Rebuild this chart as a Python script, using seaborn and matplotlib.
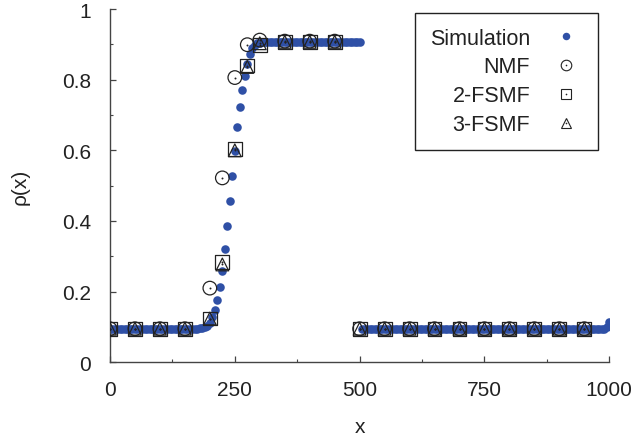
import matplotlib
matplotlib.use("Agg")
import matplotlib.pyplot as plt
from matplotlib.lines import Line2D
from matplotlib.ticker import MultipleLocator
import seaborn as sns

# ---------------- data ----------------
sim_x = list(range(0, 1001, 5))
sim_y_left = [
    0.095, 0.095, 0.095, 0.095, 0.095, 0.095, 0.095, 0.095, 0.095, 0.095, 0.095, 0.095,
    0.095, 0.095, 0.095, 0.095, 0.095, 0.095, 0.095, 0.095, 0.095, 0.095, 0.095, 0.095,
    0.095, 0.095, 0.095, 0.095, 0.095, 0.095, 0.095, 0.095, 0.095, 0.095, 0.095, 0.095,
]
sim_y_rise = [
    0.096, 0.097, 0.099, 0.103, 0.112, 0.127, 0.149, 0.177, 0.214, 0.259, 0.321, 0.385, 0.456,
    0.526, 0.598, 0.665, 0.722, 0.772, 0.810, 0.845, 0.873, 0.889, 0.898, 0.903, 0.905, 0.906,
]
sim_y_top = [
    0.907, 0.907, 0.907, 0.907, 0.907, 0.907, 0.907, 0.907, 0.907, 0.907, 0.907, 0.907, 0.907,
    0.907, 0.907, 0.907, 0.907, 0.907, 0.907, 0.907, 0.907, 0.907, 0.907, 0.907, 0.907, 0.907,
    0.907, 0.907, 0.907, 0.907, 0.907, 0.907, 0.907, 0.907, 0.907, 0.907, 0.907, 0.907, 0.907,
]
sim_y_right = [
    0.095, 0.095, 0.095, 0.095, 0.095, 0.095, 0.095, 0.095, 0.095, 0.095, 0.095, 0.095, 0.095, 0.095,
    0.095, 0.095, 0.095, 0.095, 0.095, 0.095, 0.095, 0.095, 0.095, 0.095, 0.095, 0.095, 0.095, 0.095,
    0.095, 0.095, 0.095, 0.095, 0.095, 0.095, 0.095, 0.095, 0.095, 0.095, 0.095, 0.095, 0.095, 0.095,
    0.095, 0.095, 0.095, 0.095, 0.095, 0.095, 0.095, 0.095, 0.095, 0.095, 0.095, 0.095, 0.095, 0.095,
    0.095, 0.095, 0.095, 0.095, 0.095, 0.095, 0.095, 0.095, 0.095, 0.095, 0.095, 0.095, 0.095, 0.095,
    0.095, 0.095, 0.095, 0.095, 0.095, 0.095, 0.095, 0.095, 0.095, 0.095, 0.095, 0.095, 0.095, 0.095,
    0.095, 0.095, 0.095, 0.095, 0.095, 0.095, 0.095, 0.095, 0.095, 0.095, 0.095, 0.095, 0.095, 0.095,
    0.099, 0.113,
]
sim_y = sim_y_left + sim_y_rise + sim_y_top + sim_y_right

mf_x = [0, 50, 100, 150, 200, 225, 250, 275, 300, 350, 400, 450,
        500, 550, 600, 650, 700, 750, 800, 850, 900, 950]
nmf_y = [0.095, 0.095, 0.095, 0.095, 0.210, 0.522, 0.806, 0.899, 0.912, 0.909, 0.909, 0.909,
         0.095, 0.095, 0.095, 0.095, 0.095, 0.095, 0.095, 0.095, 0.095, 0.095]
fsmf2_y = [0.095, 0.095, 0.095, 0.095, 0.124, 0.283, 0.604, 0.840, 0.898, 0.907, 0.907, 0.907,
           0.095, 0.095, 0.095, 0.095, 0.095, 0.095, 0.095, 0.095, 0.095, 0.095]
fsmf3_y = [0.095, 0.095, 0.095, 0.095, 0.124, 0.277, 0.600, 0.836, 0.903, 0.907, 0.907, 0.907,
           0.095, 0.095, 0.095, 0.095, 0.095, 0.095, 0.095, 0.095, 0.095, 0.095]

labels = ["Simulation", "NMF", "2-FSMF", "3-FSMF"]
x_ticks = [0, 250, 500, 750, 1000]
y_ticks = [0, 0.2, 0.4, 0.6, 0.8, 1]
y_tick_labels = ["0", "0.2", "0.4", "0.6", "0.8", "1"]

# ---------------- style ----------------
sns.set_style("ticks")
plt.rcParams['font.family'] = ['Liberation Sans', 'DejaVu Sans']

BLUE = "#2f50a6"
INK = "#222222"
AX = "#444444"

fig = plt.figure(figsize=(6.38, 4.39), dpi=100)
ax = fig.add_axes([0.1724, 0.1724, 0.955 - 0.1724, 0.9772 - 0.1724])

sns.scatterplot(x=sim_x, y=sim_y, color=BLUE, s=38, linewidth=0, ax=ax,
                zorder=2, legend=False)

for ys, mk, sz in [(nmf_y, "o", 96), (fsmf2_y, "s", 100), (fsmf3_y, "^", 84)]:
    sns.scatterplot(x=mf_x, y=ys, marker=mk, s=sz, facecolor="none",
                    edgecolor=INK, linewidth=0.9, ax=ax, zorder=3, legend=False)
    sns.scatterplot(x=mf_x, y=ys, marker="o", s=2, color=INK, linewidth=0,
                    ax=ax, zorder=4, legend=False)

ax.set_xlim(0, 1000)
ax.set_ylim(0, 1)
ax.set_xticks(x_ticks)
ax.set_xticklabels([str(t) for t in x_ticks])
ax.set_yticks(y_ticks)
ax.set_yticklabels(y_tick_labels)
ax.xaxis.set_minor_locator(MultipleLocator(125))
ax.yaxis.set_minor_locator(MultipleLocator(0.1))

sns.despine(ax=ax)
for sp in ["left", "bottom"]:
    ax.spines[sp].set_color(AX)
    ax.spines[sp].set_linewidth(1.0)

ax.tick_params(axis="both", which="major", direction="in", length=4, width=0.9,
               color=AX, labelsize=15, labelcolor=INK)
ax.tick_params(axis="both", which="minor", direction="in", length=2.2, width=0.8,
               color=AX)
ax.tick_params(axis="y", which="major", pad=13.5)
ax.tick_params(axis="x", which="major", pad=12.5)

ax.set_xlabel("x", fontsize=15, color=INK)
ax.set_ylabel("ρ(x)", fontsize=15, color=INK)
ax.xaxis.set_label_coords(0.5, -0.181)
ax.xaxis.label.set_va("center")
ax.yaxis.set_label_coords(-0.18, 0.5)
ax.yaxis.label.set_va("center")

# ---------------- legend ----------------
h_sim = Line2D([], [], ls="", marker="o", markersize=5.4, color=BLUE, markeredgewidth=0)
handles = [h_sim]
for mk, ms in [("o", 7.6), ("s", 7.6), ("^", 7.6)]:
    outer = Line2D([], [], ls="", marker=mk, markersize=ms, markerfacecolor="none",
                   markeredgecolor=INK, markeredgewidth=0.8)
    dot = Line2D([], [], ls="", marker="o", markersize=1.2, color=INK, markeredgewidth=0)
    handles.append((outer, dot))

leg = ax.legend(handles, labels, loc="upper right", bbox_to_anchor=(0.9766, 0.989),
                borderaxespad=0, markerfirst=False, frameon=True, fancybox=False,
                edgecolor=INK, framealpha=1, fontsize=15.5, handlelength=1.6,
                handletextpad=0.85, labelspacing=0.37, borderpad=0.68)
leg.get_frame().set_linewidth(1.0)
for t in leg.get_texts():
    t.set_color(INK)

fig.savefig("out.png", dpi=100)
